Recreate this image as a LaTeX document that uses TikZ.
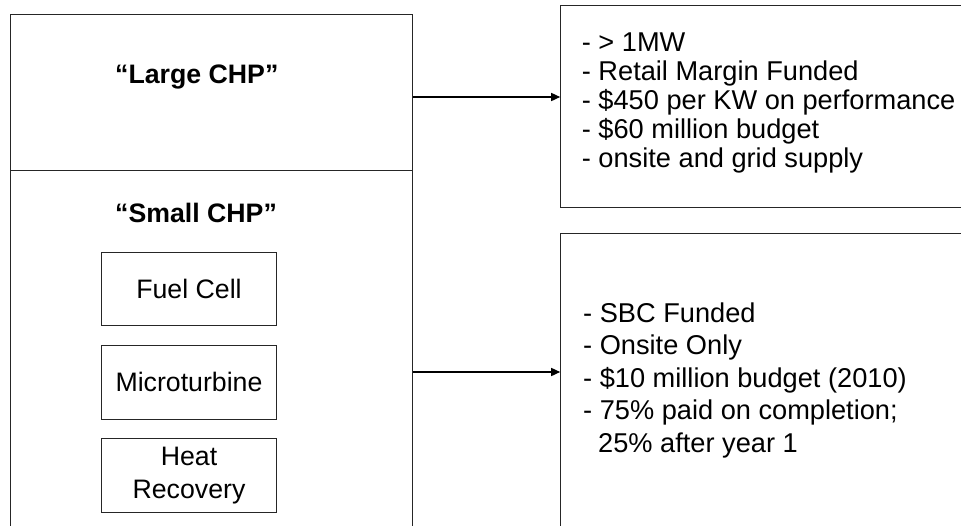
\documentclass[tikz,border=0pt]{standalone}
\usepackage{fontspec}
\setmainfont{Liberation Sans}
\usetikzlibrary{arrows.meta,positioning}

\tikzset{
  frame/.style={draw=black!85, line width=1pt, inner sep=0pt},
  unitbox/.style={frame, minimum width=174.6pt, minimum height=73.7pt,
    align=center, font=\fontsize{26.7}{33}\selectfont},
  title/.style={font=\fontsize{26.7}{32}\selectfont\bfseries,
    anchor=base west, inner sep=0pt},
  notes/.style={align=left, anchor=north west, inner sep=0pt},
  feed/.style={line width=1.5pt, -{Triangle[length=9pt,width=8pt]}},
}

\begin{document}
\begin{tikzpicture}[x=1pt, y=-1pt]
  \useasboundingbox (0,0) rectangle (961,525);
  \clip (0,0) rectangle (961,525);

  % ---- left column: CHP classes ----
  \node[frame, minimum width=402.7pt, minimum height=156pt] (large) at (211.35,92) {};
  \node[frame, minimum width=402.7pt, minimum height=404pt] (small) at (211.35,372) {};
  \node[title] (largelbl) at (115,83.3) {“Large CHP”};
  \node[title] (smalllbl) at (115,222) {“Small CHP”};

  % ---- small CHP technologies ----
  \node[unitbox] (fuel) at (189,289) {Fuel Cell};
  \node[unitbox, below=18.5pt of fuel] (micro) {Microturbine};
  \node[unitbox, below=18.5pt of micro] (heat) {Heat\\Recovery};

  % ---- right column: programme terms (boxes run off the page) ----
  \node[frame, minimum width=439.3pt, minimum height=202pt] (perf) at (780.35,106) {};
  \node[frame, minimum width=439.3pt, minimum height=366.7pt] (sbc) at (780.35,416.65) {};

  \node[notes, font=\fontsize{27.2}{29}\selectfont] (perftxt) at (581.7,32.5)
    {- > 1MW\\- Retail Margin Funded\\- \$450 per KW on performance\\- \$60 million budget\\- onsite and grid supply};
  \node[notes, font=\fontsize{27.2}{32.5}\selectfont] (sbctxt) at (583,302.5)
    {- SBC Funded\\- Onsite Only\\- \$10 million budget (2010)\\- 75\% paid on completion;\\\hspace*{15pt}25\% after year 1};

  % ---- connectors ----
  \draw[feed] ([yshift=-5pt]large.east) -- ([yshift=-5pt]large.east -| perf.west);
  \draw[feed] (small.east) -- (small.east -| sbc.west);
\end{tikzpicture}
\end{document}
